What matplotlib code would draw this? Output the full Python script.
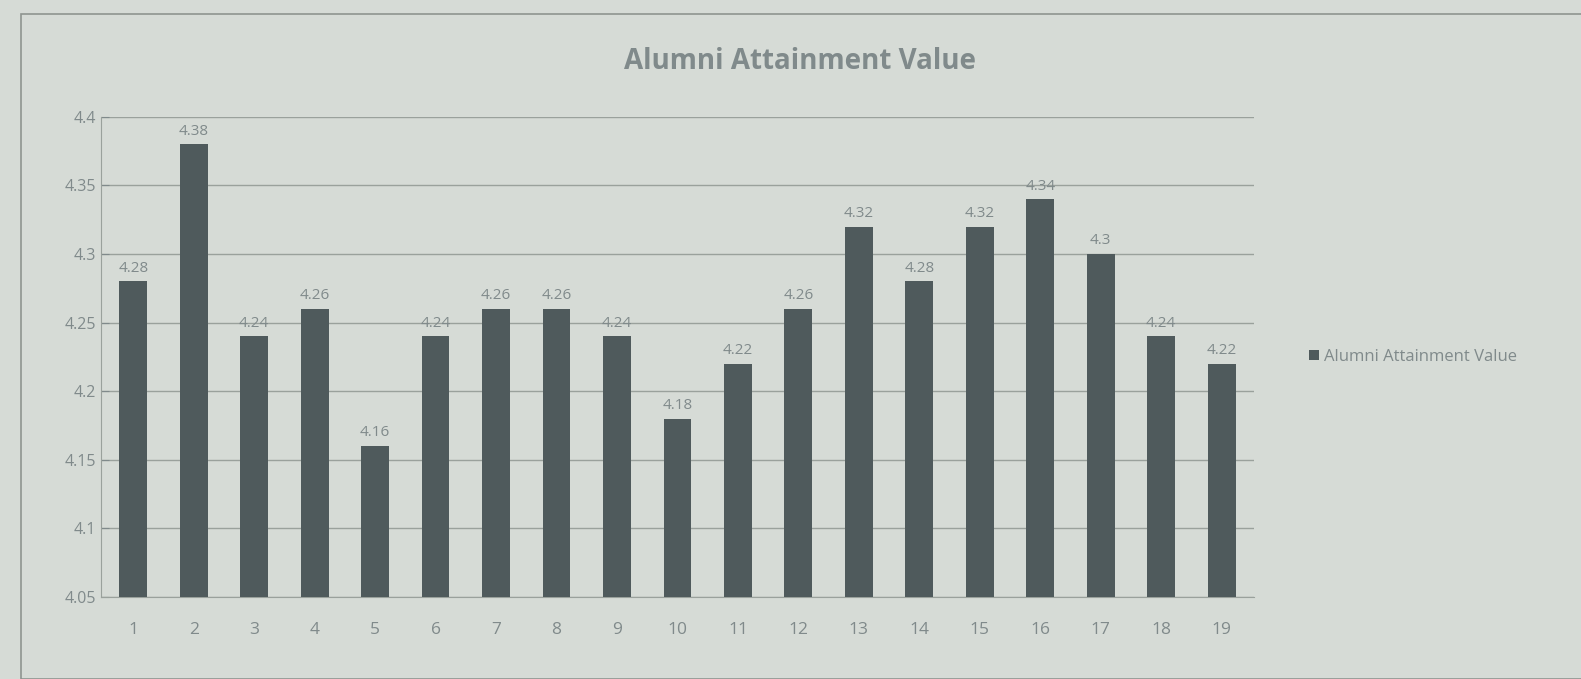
import matplotlib
matplotlib.use("Agg")
import matplotlib.pyplot as plt
from matplotlib.patches import Rectangle

categories = [str(i) for i in range(1, 20)]
values = [4.28, 4.38, 4.24, 4.26, 4.16, 4.24, 4.26, 4.26, 4.24, 4.18,
          4.22, 4.26, 4.32, 4.28, 4.32, 4.34, 4.30, 4.24, 4.22]
labels = ["4.28", "4.38", "4.24", "4.26", "4.16", "4.24", "4.26", "4.26", "4.24", "4.18",
          "4.22", "4.26", "4.32", "4.28", "4.32", "4.34", "4.3", "4.24", "4.22"]
series_name = "Alumni Attainment Value"
title = "Alumni Attainment Value"
yticks = [4.05, 4.1, 4.15, 4.2, 4.25, 4.3, 4.35, 4.4]
ytick_labels = ["4.05", "4.1", "4.15", "4.2", "4.25", "4.3", "4.35", "4.4"]

bg = "#d6dbd6"
bar_color = "#4f5a5c"
text_color = "#808a8b"
grid_color = "#9aa19c"

plt.rcParams['font.family'] = ['Open Sans', 'DejaVu Sans']

fig = plt.figure(figsize=(15.81, 6.79), dpi=100)
fig.patch.set_facecolor(bg)
ax = fig.add_axes([0.064, 0.121, 0.729, 0.707])
ax.set_facecolor(bg)

x = list(range(len(categories)))
ax.bar(x, [v - 4.05 for v in values], bottom=4.05, width=0.46,
       color=bar_color, label=series_name, zorder=3)

for xi, v, lab in zip(x, values, labels):
    ax.text(xi, v + 0.004, lab, ha="center", va="bottom", fontsize=11,
            color=text_color, zorder=4)

ax.set_ylim(4.05, 4.4)
ax.set_xlim(-0.53, len(categories) - 0.47)
ax.set_yticks(yticks)
ax.set_yticklabels(ytick_labels)
ax.set_xticks(x)
ax.set_xticklabels(categories)
ax.yaxis.grid(True, color=grid_color, linewidth=1.0, zorder=0)
for s in ["top", "right"]:
    ax.spines[s].set_visible(False)
ax.spines["left"].set_color(grid_color)
ax.spines["bottom"].set_color(grid_color)
ax.tick_params(axis="y", colors=text_color, labelsize=11.5, length=6, direction="in", pad=4)
ax.tick_params(axis="x", colors=text_color, labelsize=12.5, length=0, pad=18)

fig.text(0.506, 0.91, title, ha="center", va="center", fontsize=20,
         fontweight="bold", color=text_color)

leg = ax.legend(loc="center left", bbox_to_anchor=(1.035, 0.5), frameon=False,
                fontsize=12, handlelength=0.6, handleheight=0.6, handletextpad=0.3)
for t in leg.get_texts():
    t.set_color(text_color)

fig.add_artist(Rectangle((0.013, 0.0), 1.2, 0.98, transform=fig.transFigure,
                         fill=False, edgecolor="#8f9590", linewidth=1.2))

fig.savefig("out.png", dpi=100, facecolor=bg)
